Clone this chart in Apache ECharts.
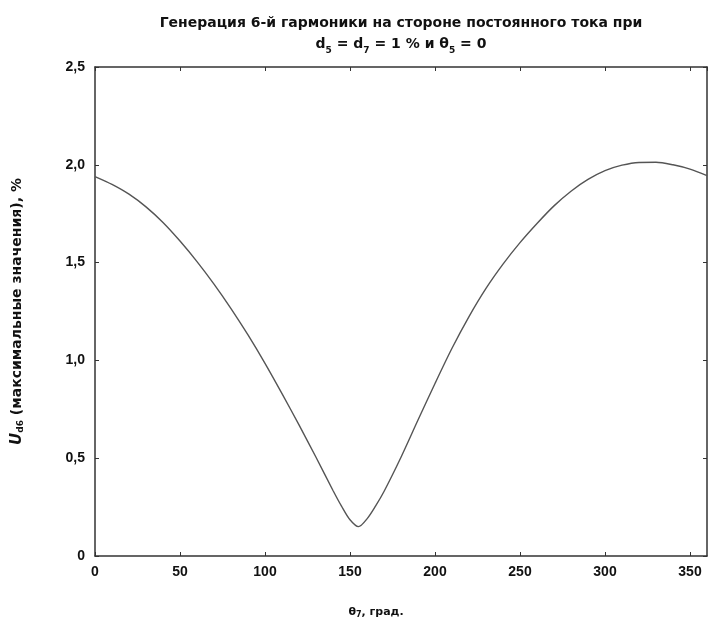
<!DOCTYPE html>
<html>
<head>
<meta charset="utf-8">
<script src="https://cdn.jsdelivr.net/npm/echarts@6/dist/echarts.min.js"></script>
<style>html,body{margin:0;padding:0;background:#fff;}#c{width:709px;height:624px;}</style>
</head>
<body>
<div id="c"></div>
<script>
// Data
const thetaDeg = [0,10,20,30,40,50,60,70,80,90,100,110,120,130,140,145,150,155,160,165,170,180,190,200,210,220,230,240,250,260,270,280,290,300,310,320,330,340,350,360];
const ud6 = [1.94,1.90,1.85,1.785,1.705,1.61,1.505,1.39,1.265,1.13,0.985,0.83,0.67,0.505,0.335,0.255,0.185,0.15,0.19,0.255,0.33,0.505,0.695,0.882,1.062,1.224,1.368,1.492,1.602,1.70,1.79,1.865,1.925,1.97,1.998,2.012,2.013,2.0,1.978,1.945];
const xTicks = [0,50,100,150,200,250,300,350];
const yTicks = [0,0.5,1.0,1.5,2.0,2.5];
const titleLine1 = 'Генерация 6-й гармоники на стороне постоянного тока при';
const xName = 'θ{s|7}, град.';
const yName = '{i|U}{s|d6} (максимальные значения), %';

const chart = echarts.init(document.getElementById('c'), null, {renderer:'canvas'});
const F = '"Liberation Sans", Arial, sans-serif';
const FT = '"DejaVu Sans", sans-serif';
const axisCol = '#333';
const fmtY = v => v === 0 ? '0' : v.toFixed(1).replace('.', ',');

chart.setOption({
  animation: false,
  backgroundColor: '#fff',
  graphic: [{
    type: 'text', x: 401, y: 13,
    style: {
      text: titleLine1 + '\n{i|d}{s|5} = {i|d}{s|7} = 1 % и θ{s|5} = 0',
      align: 'center', verticalAlign: 'top',
      font: 'bold 14px ' + FT, fill: '#111', lineHeight: 21,
      rich: {
        i: {font: 'bold 14px ' + FT, fill: '#111'},
        s: {font: 'bold 9px ' + FT, fill: '#111', verticalAlign: 'bottom', padding: [6,0,0,0]}
      }
    }
  }],
  grid: {left: 95, right: 2, top: 67, bottom: 67, containLabel: false},
  xAxis: [{
    type: 'value', min: 0, max: 360, interval: 50,
    name: xName, nameLocation: 'middle', nameGap: 50,
    nameTextStyle: {fontFamily: FT, fontWeight: 'bold', fontSize: 11, color: '#111', padding: [0, 50, 0, 0],
      rich: {s: {fontFamily: FT, fontWeight: 'bold', fontSize: 8, color: '#111', verticalAlign: 'bottom', padding:[5,0,0,0]}}},
    axisLine: {show: true, onZero: false, lineStyle: {color: axisCol, width: 1.5}},
    axisTick: {show: true, inside: true, length: 4, lineStyle: {color: axisCol}},
    axisLabel: {showMaxLabel: false, margin: 9, fontFamily: F, fontWeight: 'bold', fontSize: 14, color: '#111'},
    splitLine: {show: false}
  }, {
    type: 'value', position: 'top', min: 0, max: 360, interval: 50,
    axisLine: {show: true, onZero: false, lineStyle: {color: axisCol, width: 1.5}},
    axisTick: {show: true, inside: true, length: 4, lineStyle: {color: axisCol}},
    axisLabel: {show: false}, splitLine: {show: false}
  }],
  yAxis: [{
    type: 'value', min: 0, max: 2.5, interval: 0.5,
    name: yName, nameLocation: 'middle', nameGap: 70, nameRotate: 90,
    nameTextStyle: {fontFamily: FT, fontWeight: 'bold', fontSize: 14, color: '#111',
      rich: {
        i: {fontFamily: FT, fontWeight: 'bold', fontStyle: 'italic', fontSize: 15, color: '#111'},
        s: {fontFamily: FT, fontWeight: 'bold', fontSize: 9, color: '#111', verticalAlign: 'bottom', padding:[6,0,0,0]}
      }},
    axisLine: {show: true, onZero: false, lineStyle: {color: axisCol, width: 1.5}},
    axisTick: {show: true, inside: true, length: 4, lineStyle: {color: axisCol}},
    axisLabel: {formatter: fmtY, margin: 10, fontFamily: F, fontWeight: 'bold', fontSize: 14, color: '#111'},
    splitLine: {show: false}
  }, {
    type: 'value', position: 'right', min: 0, max: 2.5, interval: 0.5,
    axisLine: {show: true, onZero: false, lineStyle: {color: axisCol, width: 1.5}},
    axisTick: {show: true, inside: true, length: 4, lineStyle: {color: axisCol}},
    axisLabel: {show: false}, splitLine: {show: false}
  }],
  series: [{
    type: 'line', xAxisIndex: 0, yAxisIndex: 0,
    data: thetaDeg.map((t, i) => [t, ud6[i]]),
    showSymbol: false, smooth: 0.3,
    lineStyle: {color: '#555', width: 1.4}
  }]
});
</script>
</body>
</html>
